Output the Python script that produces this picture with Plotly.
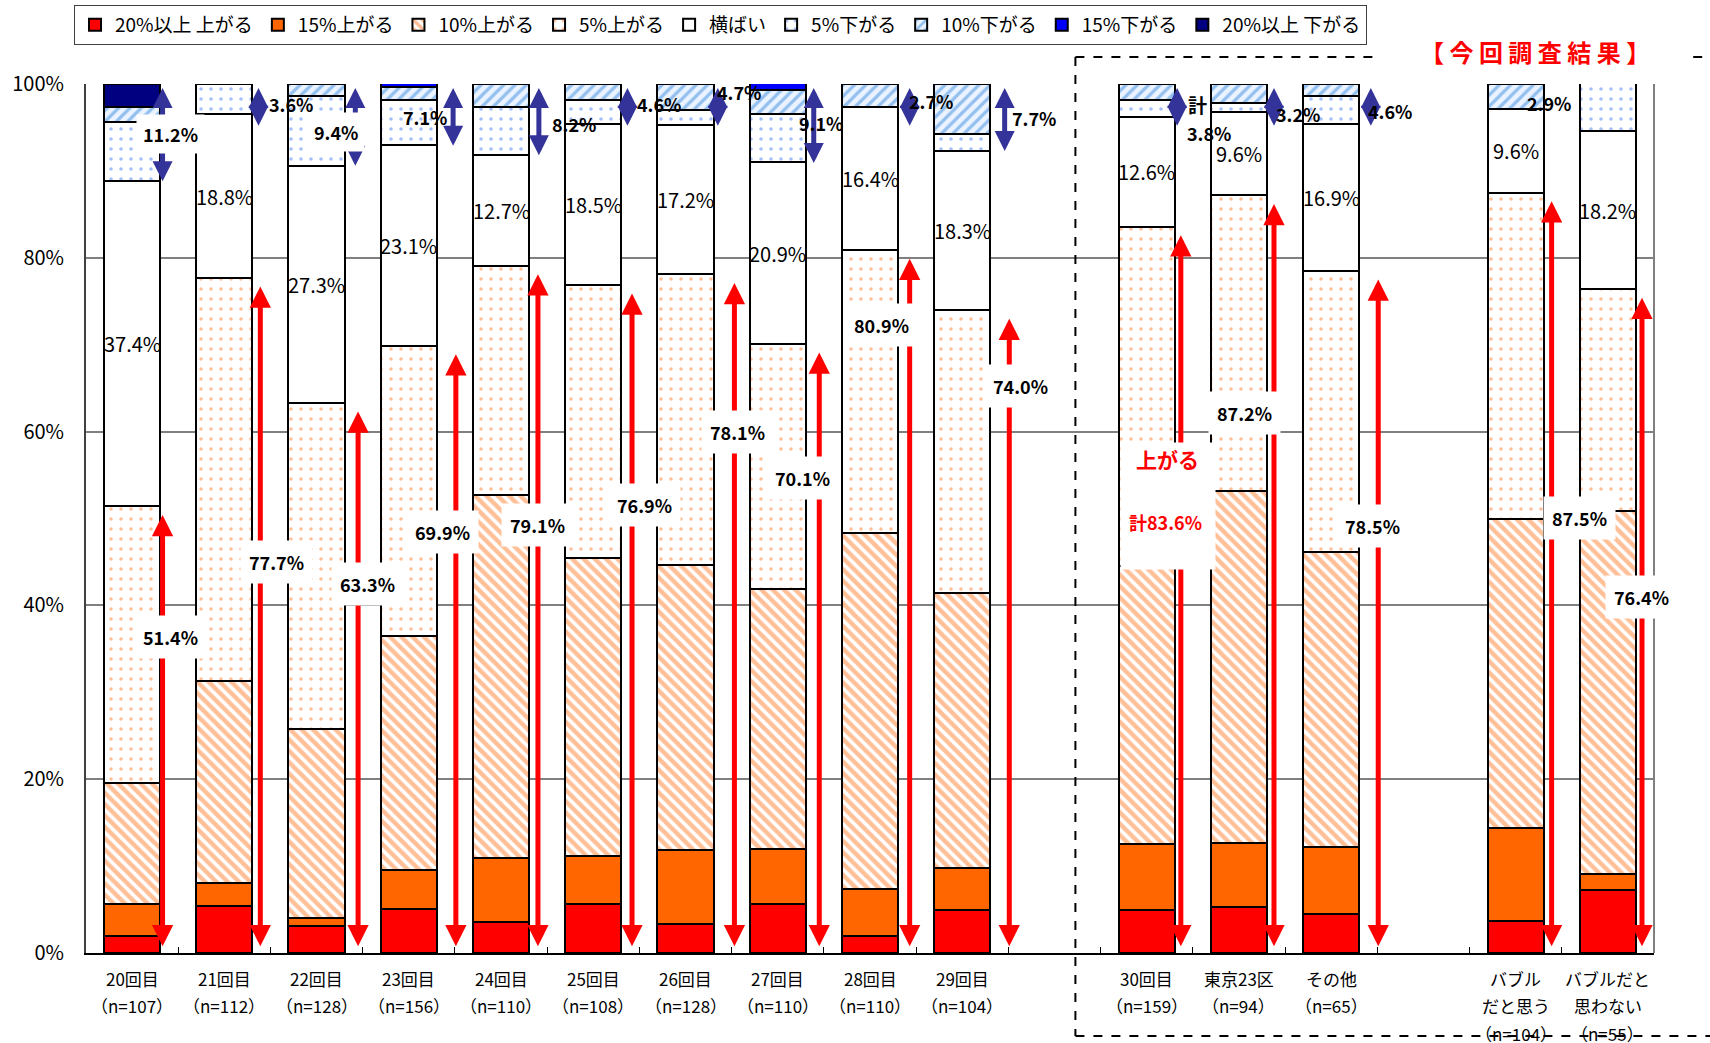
import plotly.graph_objects as go

# ---------------- data ----------------
slots = ["20回目", "21回目", "22回目", "23回目", "24回目", "25回目", "26回目", "27回目",
         "28回目", "29回目", None, "30回目", "東京23区", "その他", None,
         "バブル<br>だと思う", "バブルだと<br>思わない"]
sample_n = [107, 112, 128, 156, 110, 108, 128, 110, 110, 104, 159, 94, 65, 104, 55]

series_names = ["20%以上 上がる", "15%上がる", "10%上がる", "5%上がる", "横ばい",
                "5%下がる", "10%下がる", "15%下がる", "20%以上 下がる"]
up20 = [1.9, 5.4, 3.1, 5.1, 3.6, 5.6, 3.3, 5.6, 2.0, 4.9, 5.0, 5.3, 4.5, 3.7, 7.2]
up15 = [3.7, 2.7, 0.9, 4.5, 7.3, 5.6, 8.6, 6.4, 5.4, 4.9, 7.5, 7.4, 7.7, 10.7, 1.9]
up10 = [14.0, 23.2, 21.8, 26.9, 41.8, 34.2, 32.8, 29.9, 40.9, 31.6, 32.0, 40.5, 34.0, 35.6, 41.8]
up5 = [31.8, 46.4, 37.5, 33.4, 26.4, 31.5, 33.4, 28.2, 32.6, 32.6, 39.1, 34.0, 32.3, 37.5, 25.5]
flat = [37.4, 18.8, 27.3, 23.1, 12.7, 18.5, 17.2, 20.9, 16.4, 18.3, 12.6, 9.6, 16.9, 9.6, 18.2]
down5 = [6.8, 3.5, 8.0, 5.2, 5.5, 2.8, 1.7, 5.6, 0, 2.0, 2.0, 1.0, 3.2, 0, 5.5]
down10 = [1.7, 0, 1.4, 1.4, 2.7, 1.8, 3.0, 2.7, 2.7, 5.7, 1.8, 2.2, 1.4, 2.9, 0]
down15 = [0, 0, 0, 0.5, 0, 0, 0, 0.8, 0, 0, 0, 0, 0, 0, 0]
down20 = [2.7, 0, 0, 0, 0, 0, 0, 0, 0, 0, 0, 0, 0, 0, 0]

up_total = [51.4, 77.7, 63.3, 69.9, 79.1, 76.9, 78.1, 70.1, 80.9, 74.0, 83.6, 87.2, 78.5, 87.5, 76.4]
down_total = [11.2, 3.6, 9.4, 7.1, 8.2, 4.6, 4.7, 9.1, 2.7, 7.7, 3.8, 3.2, 4.6, 2.9, 5.5]

# ---------------- styling ----------------
FONT = "Noto Sans CJK JP"
x_pos = [i for i, c in enumerate(slots) if c is not None]
labels = [c for c in slots if c is not None]
BAR_W = 0.61

styles = [
    dict(color="#FF0000"),
    dict(color="#FF6600"),
    dict(color="white", pattern=dict(shape="\\", fgcolor="#FF7F30", bgcolor="white", size=8, solidity=0.55)),
    dict(color="white", pattern=dict(shape=".", fgcolor="#FF7F30", bgcolor="white", size=10, solidity=0.1)),
    dict(color="white"),
    dict(color="white", pattern=dict(shape=".", fgcolor="#4A7FF0", bgcolor="white", size=10, solidity=0.1)),
    dict(color="white", pattern=dict(shape="/", fgcolor="#3C8CE0", bgcolor="#EAF3FF", size=8, solidity=0.4)),
    dict(color="#0000FF"),
    dict(color="#000080"),
]
all_series = [up20, up15, up10, up5, flat, down5, down10, down15, down20]

fig = go.Figure()
for name, vals, st in zip(series_names, all_series, styles):
    marker = dict(st)
    marker["line"] = dict(color="black", width=2)
    fig.add_trace(go.Bar(x=x_pos, y=vals, name=name, width=BAR_W, marker=marker,
                         hoverinfo="skip"))

annotations = []

# red (up) arrows
red_dx = [0.33, 0.39, 0.45, 0.51, 0.40, 0.42, 0.53, 0.45, 0.43, 0.51, 0.37, 0.38, 0.51, 0.39, 0.37]
for xp, dx, v in zip(x_pos, red_dx, up_total):
    annotations.append(dict(x=xp + dx, y=v - 1.0, ax=xp + dx, ay=0.6, xref="x", yref="y",
                            axref="x", ayref="y", text="", showarrow=True, font=dict(size=1),
                            arrowhead=2, arrowside="end+start", arrowsize=0.85,
                            arrowwidth=5, arrowcolor="#FF0000"))
# blue (down) arrows (not for the two bubble bars)
blue_dx = [0.33, 0.37, 0.42, 0.48, 0.41, 0.37, 0.35, 0.39, 0.43, 0.46, 0.33, 0.38, 0.43]
for xp, dx, v in zip(x_pos, blue_dx, down_total):
    annotations.append(dict(x=xp + dx, y=100 - max(v, 4.8), ax=xp + dx, ay=99.7, xref="x", yref="y",
                            axref="x", ayref="y", text="", showarrow=True, font=dict(size=1),
                            arrowhead=2, arrowside="end+start", arrowsize=0.8,
                            arrowwidth=5, arrowcolor="#333399"))

# 横ばい labels (centre of the flat segment)
for i, xp in enumerate(x_pos):
    base = up_total[i]
    annotations.append(dict(x=xp, y=base + flat[i] / 2, xref="x", yref="y",
                            text=f"{flat[i]:.1f}%", showarrow=False,
                            font=dict(family=FONT, size=20, color="black")))

# up-total labels (white boxes)
up_lab_pos = [(0.42, 36.4), (1.57, 45.0), (2.55, 42.5), (3.37, 48.4), (4.40, 49.3),
              (5.56, 51.6), (6.56, 60.0), (7.27, 54.7), (8.13, 72.3), (9.63, 65.2),
              None, (12.06, 62.1), (13.45, 49.1), (15.69, 50.1), (16.36, 41.0)]
for v, p in zip(up_total, up_lab_pos):
    if p is None:
        continue
    annotations.append(dict(x=p[0], y=p[1], xref="x", yref="y", text=f"<b>{v:.1f}%</b>",
                            showarrow=False, bgcolor="white", borderpad=8,
                            font=dict(family=FONT, size=18, color="black")))

# 30回目 special label
annotations.append(dict(x=11.23, y=51.4, xref="x", yref="y", text=" ", showarrow=False,
                        bgcolor="white", width=94, height=126, borderpad=0))
annotations.append(dict(x=11.23, y=56.8, xref="x", yref="y", text="<b>上がる</b>", showarrow=False,
                        font=dict(family=FONT, size=21, color="#FF0000")))
annotations.append(dict(x=11.2, y=49.6, xref="x", yref="y", text=f"<b>計{up_total[10]:.1f}%</b>",
                        showarrow=False, font=dict(family=FONT, size=18, color="#FF0000")))

# down-total labels
down_lab_pos = [(0.42, 94.2), (1.72, 97.7), (2.21, 94.5), (3.17, 96.2), (4.79, 95.4),
                (5.71, 97.7), (6.58, 99.1), (7.47, 95.5), (8.66, 98.0), (9.78, 96.1),
                (11.67, 94.4), (12.64, 96.6), (13.64, 96.9), (15.36, 97.8), (16.51, 97.8)]
down_bg = [True, False, True] + [False] * 12
for v, p, bg in zip(down_total, down_lab_pos, down_bg):
    a = dict(x=p[0], y=p[1], xref="x", yref="y", text=f"<b>{v:.1f}%</b>", showarrow=False,
             font=dict(family=FONT, size=18, color="black"))
    if bg:
        a.update(bgcolor="white", borderpad=6)
    annotations.append(a)
annotations.append(dict(x=11.55, y=97.6, xref="x", yref="y", text="<b>計</b>", showarrow=False,
                        font=dict(family=FONT, size=19, color="black")))
annotations.append(dict(x=11.83, y=101.4, xref="x", yref="y", text="<b>下がる</b>", showarrow=False,
                        font=dict(family=FONT, size=21, color="#0000FF")))

# category labels (one annotation per line)
for xp, lab, n in zip(x_pos, labels, sample_n):
    lines = lab.split("<br>") + [f"（n={n}）"]
    for k, ln in enumerate(lines):
        annotations.append(dict(x=xp, y=0, xref="x", yref="paper", yanchor="middle",
                                yshift=-25 - 27.5 * k, text=ln, showarrow=False,
                                font=dict(family=FONT, size=17, color="black")))

# title of the right-hand section
annotations.append(dict(x=0.924, y=1.037, xref="paper", yref="paper", yanchor="middle",
                        xanchor="center",
                        text="<b>【 今 回 調 査 結 果 】</b>", showarrow=False,
                        font=dict(family=FONT, size=24, color="#FF0000")))

# dashed frame around the current-survey section + right plot border
dash_line = dict(color="black", width=2, dash="dash")
shapes = [
    dict(type="line", xref="paper", yref="paper", x0=0.631, x1=0.824, y0=1.031, y1=1.031, line=dash_line),
    dict(type="line", xref="paper", yref="paper", x0=1.025, x1=1.04, y0=1.031, y1=1.031, line=dash_line),
    dict(type="line", xref="paper", yref="paper", x0=0.631, x1=0.631, y0=1.031, y1=-0.0955, line=dash_line),
    dict(type="line", xref="paper", yref="paper", x0=0.631, x1=1.04, y0=-0.0955, y1=-0.0955, line=dash_line),
    dict(type="line", xref="paper", yref="paper", x0=1, x1=1, y0=0, y1=1,
         line=dict(color="#808080", width=2), layer="below"),
]

fig.update_layout(
    width=1710, height=1043,
    margin=dict(l=84, r=56, t=84, b=90),
    paper_bgcolor="white", plot_bgcolor="white",
    barmode="stack",
    font=dict(family=FONT, color="black"),
    showlegend=True,
    legend=dict(orientation="h", xref="container", yref="container",
                x=74 / 1710, y=1 - 5 / 1043, xanchor="left", yanchor="top",
                bordercolor="#404040", borderwidth=1, bgcolor="white",
                font=dict(family=FONT, size=19), itemwidth=30, tracegroupgap=0,
                traceorder="normal"),
    annotations=annotations,
    shapes=shapes,
)
fig.update_xaxes(range=[-0.5, 16.5], tickvals=[i + 0.5 for i in range(16)], showticklabels=False,
                 ticks="inside", ticklen=6, tickcolor="black", showgrid=False, zeroline=False,
                 showline=True, linecolor="black", linewidth=2)
fig.update_yaxes(range=[0, 100], tickvals=[0, 20, 40, 60, 80, 100],
                 ticktext=["0%", "20%", "40%", "60%", "80%", "100%"],
                 tickfont=dict(family=FONT, size=20, color="black"),
                 showgrid=True, gridcolor="#808080", gridwidth=1.5, zeroline=False,
                 showline=True, linecolor="#404040", linewidth=2,
                 ticks="", ticklabelstandoff=16)

fig.write_html("out.html", config={"displayModeBar": False},
               post_script="document.body.style.margin='0';")
